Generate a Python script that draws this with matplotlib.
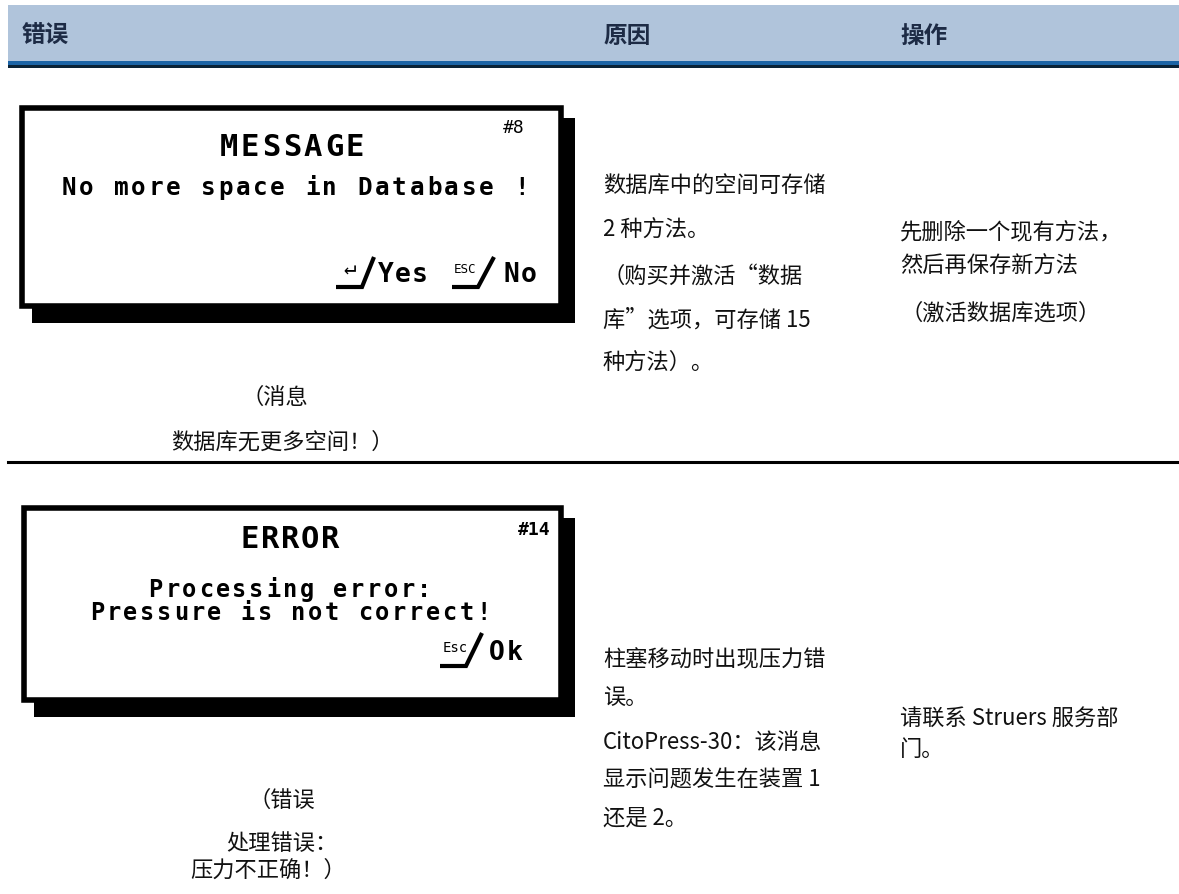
import matplotlib.pyplot as plt
from matplotlib.patches import Rectangle

plt.rcParams['font.family'] = ['Noto Sans CJK SC', 'DejaVu Sans']

# 表头
headers = ['错误', '原因', '操作']

# 屏幕消息内容
screen_titles = ['MESSAGE', 'ERROR']
screen_numbers = ['#8', '#14']
screen_lines = [['No more space in Database !'],
                ['Processing error:', 'Pressure is not correct!']]

# 屏幕下方的中文说明
captions = [['（消息', '数据库无更多空间！）'],
            ['（错误', '处理错误：', '压力不正确！）']]

# 原因列
causes = [['数据库中的空间可存储', '2 种方法。', '（购买并激活“数据', '库”选项，可存储 15', '种方法）。'],
          ['柱塞移动时出现压力错', '误。', 'CitoPress-30：该消息', '显示问题发生在装置 1', '还是 2。']]
cause_y = [[186, 230, 276, 320, 362],
           [660, 697, 743, 780, 818]]

# 操作列
actions = [['先删除一个现有方法，', '然后再保存新方法', '（激活数据库选项）'],
           ['请联系 Struers 服务部', '门。']]
action_y = [[232, 266, 313],
            [718, 750]]

fig = plt.figure(figsize=(11.79, 8.95), dpi=100)
ax = fig.add_axes([0, 0, 1, 1])
ax.set_xlim(0, 1179)
ax.set_ylim(895, 0)
ax.axis('off')

mono = ['DejaVu Sans Mono', 'DejaVu Sans']


def lcd(x, y, s, pitch, size, align='center', bold=True):
    # 逐字放置，模仿液晶屏的宽字距
    w = pitch * len(s)
    if align == 'center':
        x0 = x - w / 2
    elif align == 'right':
        x0 = x - w
    else:
        x0 = x
    for k, ch in enumerate(s):
        ax.text(x0 + (k + 0.5) * pitch, y, ch, family=mono, fontsize=size,
                fontweight='bold' if bold else 'normal', ha='center', va='center')


def key(x0, x1, x2, ybot, ytop, label, lx, ly, lsize):
    # 按键符号：下划线 + 斜杠
    ax.plot([x0, x1, x2], [ybot, ybot, ytop], color='black', lw=3,
            solid_joinstyle='miter', solid_capstyle='butt')
    ax.text(lx, ly, label, family=mono, fontsize=lsize, ha='center', va='center')


# 表头背景
ax.add_patch(Rectangle((8, 6), 1171, 56, color='#B0C4DB', lw=0))
ax.add_patch(Rectangle((8, 62), 1171, 4, color='#1C64A6', lw=0))
ax.add_patch(Rectangle((8, 66), 1171, 3, color='#0A2236', lw=0))
for hx, h in zip([22, 603, 900], headers):
    ax.text(hx, 36, h, fontsize=17, fontweight='heavy', color='#1D2B45',
            va='center', ha='left')

# 行分隔线
ax.plot([8, 1179], [463, 463], color='black', lw=2.2)

boxes = [(22, 109, 539, 198), (24, 509, 537, 192)]
for i, (bx, by, bw, bh) in enumerate(boxes):
    ax.add_patch(Rectangle((bx + 10, by + 10), bw + 4, bh + 7, color='black', lw=0))
    ax.add_patch(Rectangle((bx, by), bw, bh, facecolor='white', edgecolor='black', lw=4))

# 消息框 1
lcd(292, 147, screen_titles[0], 21, 22)
ax.text(525, 128, screen_numbers[0], family=mono, fontsize=13, ha='right', va='center')
lcd(295, 188, screen_lines[0][0], 17.4, 17.5)
key(336, 362, 374, 288, 258, '↵', 350, 268, 15)
lcd(378, 275, 'Yes', 16.7, 19, align='left')
key(452, 478, 494, 288, 258, 'ESC', 465, 269, 9)
lcd(502, 275, 'No', 18, 19, align='left')

# 消息框 2
lcd(290, 540, screen_titles[1], 20, 22)
ax.text(550, 530, screen_numbers[1], family=mono, fontweight='bold',
        fontsize=13, ha='right', va='center')
for k, line in enumerate(screen_lines[1]):
    lcd(290, 590 + k * 23, line, 16.8, 17)
key(440, 466, 482, 667, 634, 'Esc', 455, 648, 10)
lcd(488, 653, 'Ok', 18, 19, align='left')

# 截图下方的说明
cap_y = [[397, 442], [800, 843, 870]]
cap_x = [[275, 282], [282, 282, 268]]
for i, cap in enumerate(captions):
    for k, line in enumerate(cap):
        ax.text(cap_x[i][k], cap_y[i][k], line, fontsize=16, ha='center', va='center',
                color='#111111')

for i in range(2):
    for line, y in zip(causes[i], cause_y[i]):
        ax.text(603, y, line, fontsize=16, ha='left', va='center', color='#111111')
    for line, y in zip(actions[i], action_y[i]):
        ax.text(900, y, line, fontsize=16, ha='left', va='center', color='#111111')

fig.savefig('out.png', dpi=100)
